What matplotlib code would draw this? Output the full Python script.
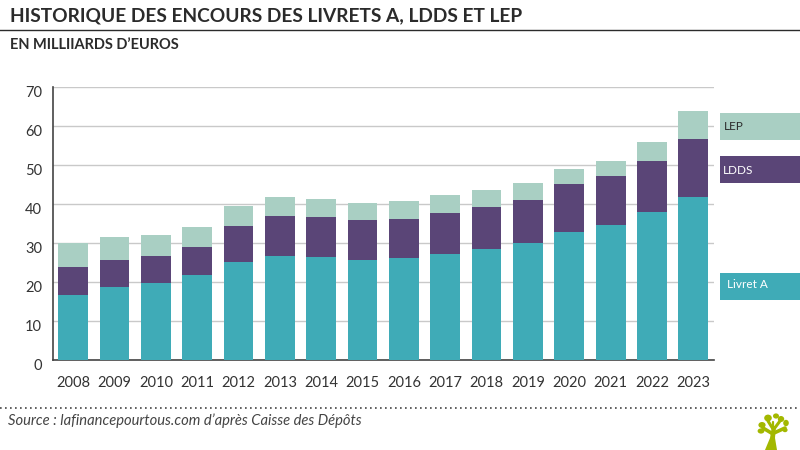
import matplotlib
matplotlib.use("Agg")
import matplotlib.pyplot as plt
import matplotlib.transforms as mtrans
import numpy as np
from matplotlib.patches import Ellipse, Polygon, Rectangle

years = [2008, 2009, 2010, 2011, 2012, 2013, 2014, 2015, 2016, 2017, 2018, 2019, 2020, 2021, 2022, 2023]
livret_a = [16.5, 18.5, 19.6, 21.7, 25.0, 26.6, 26.3, 25.6, 26.0, 27.1, 28.4, 29.8, 32.8, 34.5, 37.8, 41.8]
ldds = [7.2, 7.0, 6.9, 7.1, 9.3, 10.3, 10.3, 10.2, 10.1, 10.6, 10.8, 11.3, 12.2, 12.7, 13.1, 14.9]
lep = [6.3, 5.9, 5.5, 5.2, 5.2, 4.9, 4.6, 4.4, 4.6, 4.6, 4.3, 4.2, 4.0, 3.8, 4.9, 7.2]
y_ticks = [0, 10, 20, 30, 40, 50, 60, 70]

TEAL = "#3fabb7"
PURPLE = "#5a4577"
MINT = "#a9cfc3"
DARK = "#2b2b2b"
W, H = 800, 450

plt.rcParams['font.family'] = ['Lato', 'DejaVu Sans']

fig = plt.figure(figsize=(8, 4.5), dpi=100)

# chart area, placed in pixels
ax = fig.add_axes([52.5 / W, 1 - 359.5 / H, (714 - 52.5) / W, 272.5 / H])
x = np.arange(len(years))
a = np.array(livret_a)
b = np.array(ldds)
c = np.array(lep)
ax.bar(x, a, width=0.72, color=TEAL, zorder=3)
ax.bar(x, b, width=0.72, bottom=a, color=PURPLE, zorder=3)
ax.bar(x, c, width=0.72, bottom=a + b, color=MINT, zorder=3)

ax.set_xlim(-0.5, 15.5)
ax.set_ylim(0, 70)
ax.set_xticks(x)
ax.set_xticklabels(years)
ax.set_yticks(y_ticks)
ax.tick_params(axis='both', length=0, labelsize=10.5, labelcolor='#333333')
ax.tick_params(axis='x', pad=12)
ax.tick_params(axis='y', pad=7.5)
ax.grid(axis='y', color='#c9c9c9', linewidth=1, zorder=0)
for side in ['top', 'right']:
    ax.spines[side].set_visible(False)
for side in ['left', 'bottom']:
    ax.spines[side].set_color('#444444')
    ax.spines[side].set_linewidth(1.2)

# y labels sit a little under their gridlines in the original
shift = mtrans.ScaledTranslation(0, -4.5 / 100, fig.dpi_scale_trans)
for lab in ax.get_yticklabels():
    lab.set_transform(lab.get_transform() + shift)

# overlay in pixel coordinates for titles, legend boxes and logo
ov = fig.add_axes([0, 0, 1, 1], zorder=5)
ov.set_xlim(0, W)
ov.set_ylim(H, 0)
ov.axis('off')

ov.text(10, 16, "HISTORIQUE DES ENCOURS DES LIVRETS A, LDDS ET LEP", fontsize=13.8,
        fontweight='bold', color=DARK, va='center', ha='left')
ov.plot([0, 800], [30, 30], color=DARK, linewidth=1)
ov.text(10, 45, "EN MILLIIARDS D\u2019EUROS", fontsize=10.5, fontweight='bold', color=DARK, va='center', ha='left')

# legend boxes
ov.add_patch(Rectangle((720, 112.5), 80, 27, color=MINT, linewidth=0))
ov.add_patch(Rectangle((720, 155.5), 80, 27, color=PURPLE, linewidth=0))
ov.add_patch(Rectangle((720, 272.5), 80, 27, color=TEAL, linewidth=0))
ov.text(724, 126, "LEP", fontsize=8.5, color=DARK, va='center')
ov.text(723, 170, "LDDS", fontsize=8.5, color='white', va='center')
ov.text(727, 285, "Livret A", fontsize=8.5, color='white', va='center')

ov.plot([0, 800], [407.5, 407.5], color='#444444', linewidth=1.2, linestyle=(0, (1, 2)))
ov.text(8, 421, "Source : lafinancepourtous.com d\u2019apr\u00e8s Caisse des D\u00e9p\u00f4ts", fontsize=10.6,
        fontstyle='italic', color='#444444', va='center', ha='left')

# tree logo
GREEN = "#a3b800"
ov.add_patch(Polygon([(765, 450), (770, 438), (772, 426), (776, 426), (775, 438), (777, 450)], color=GREEN, linewidth=0))
for x0, y0, x1, y1, lw in [(773, 434, 763, 428, 2.6), (774, 433, 785, 428, 2.6), (773, 429, 768, 421, 2.2),
                           (774, 429, 780, 421, 2.2), (773, 428, 773, 422, 1.6)]:
    ov.plot([x0, x1], [y0, y1], color=GREEN, linewidth=lw, solid_capstyle='round')
for cx, cy, rx, ry in [(761, 431, 3.4, 2.6), (762, 425, 3.6, 3), (768, 418, 3.8, 3.4), (776, 416, 3, 2.6),
                       (781, 419, 3.2, 3), (786, 423, 2.8, 3.2), (785, 430, 2.6, 2.2)]:
    ov.add_patch(Ellipse((cx, cy), 2 * rx, 2 * ry, color=GREEN, linewidth=0))

fig.savefig("out.png", dpi=100)
